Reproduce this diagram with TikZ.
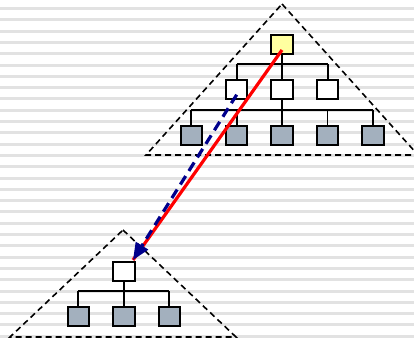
\documentclass[tikz,border=0pt]{standalone}
\usetikzlibrary{arrows.meta,calc}
\definecolor{boxyellow}{RGB}{255,255,160}
\definecolor{boxgray}{RGB}{163,176,190}
\definecolor{navy}{RGB}{0,0,140}
\definecolor{stripegray}{RGB}{226,226,226}
\tikzset{
  treebox/.style={draw=black,line width=2pt,minimum width=21.5pt,minimum height=19pt,inner sep=0pt,fill=white},
  rootbox/.style={treebox,fill=boxyellow},
  leafbox/.style={treebox,fill=boxgray},
  treeline/.style={draw=black,line width=1.7pt},
  region/.style={draw=black,line width=1.6pt,dash pattern=on 6pt off 4pt},
  moveline/.style={draw=red,line width=3.2pt},
  copyline/.style={draw=navy,line width=3.2pt,dash pattern=on 10pt off 6pt,-{Triangle[length=17pt,width=14pt]}}
}
\begin{document}
\begin{tikzpicture}[x=1pt,y=-1pt]
\useasboundingbox (0,0) rectangle (414,340);
\clip (0,0) rectangle (414,340);
\fill[white] (0,0) rectangle (414,340);
\foreach \i in {0,...,29}
  \fill[stripegray] (0,{8.5+11.3*\i-1.5}) rectangle (414,{8.5+11.3*\i+1.5});
% regions
\draw[region] (282,4) -- (418,155) -- (146,155) -- cycle;
\draw[region] (123,230) -- (236,337) -- (10,337) -- cycle;
% top tree
\coordinate (busA) at (282,64.3);
\coordinate (busB) at (282,110);
\coordinate (busC) at (124,291);
\draw[treeline] (282,54) -- (busA);
\draw[treeline] (236.7,64.3) -- (327.7,64.3);
\foreach \x in {236.7,282,327.7} \draw[treeline] (\x,64.3) -- (\x,80);
\draw[treeline] (282,100) -- (busB);
\draw[treeline] (191.3,110) -- (373,110);
\foreach \x in {191.3,236.7,282,327.5,373} \draw[treeline] (\x,110) -- (\x,125);
\node[rootbox] (root) at (282,44) {};
\node[treebox] (a1) at (236.7,89.7) {};
\node[treebox] (a2) at (282,89.7) {};
\node[treebox] (a3) at (327.7,89.7) {};
\node[leafbox] (b1) at (191.3,135) {};
\node[leafbox] (b2) at (236.7,135) {};
\node[leafbox] (b3) at (282,135) {};
\node[leafbox] (b4) at (327.5,135) {};
\node[leafbox] (b5) at (373,135) {};
% bottom tree
\draw[treeline] (124,281) -- (busC);
\draw[treeline] (78.3,291) -- (169.3,291);
\foreach \x in {78.3,124,169.3} \draw[treeline] (\x,291) -- (\x,306);
\node[treebox] (c) at (124,271) {};
\node[leafbox] (d1) at (78.3,316.3) {};
\node[leafbox] (d2) at (124,316.3) {};
\node[leafbox] (d3) at (169.3,316.3) {};
% arrows
\coordinate (rs) at ($(root.center)+(0,6)$);
\coordinate (bs) at ($(a1.center)+(0,5)$);
\coordinate (tip) at (133,260);
\draw[moveline] (rs) -- (tip);
\draw[copyline] (bs) -- (tip);
\end{tikzpicture}
\end{document}
